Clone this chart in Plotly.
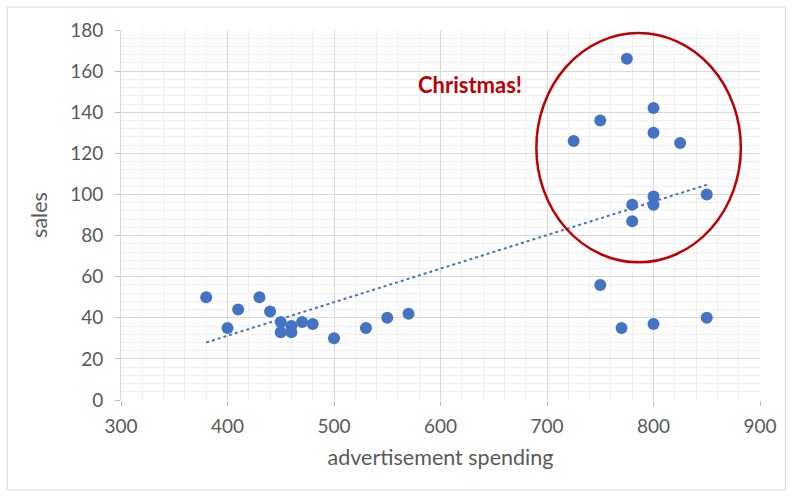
import numpy as np
import plotly.graph_objects as go

spending = [380, 400, 410, 430, 440, 450, 450, 460, 460, 470, 480, 500, 530, 550, 570,
            725, 750, 775, 800, 800, 825, 800, 800, 780, 780, 850, 750, 770, 800, 850]
sales = [50, 35, 44, 50, 43, 38, 33, 36, 33, 38, 37, 30, 35, 40, 42,
         126, 136, 166, 142, 130, 125, 99, 95, 95, 87, 100, 56, 35, 37, 40]

x_ticks = [300, 400, 500, 600, 700, 800, 900]
y_ticks = [0, 20, 40, 60, 80, 100, 120, 140, 160, 180]

xs = np.array(spending, dtype=float)
ys = np.array(sales, dtype=float)
slope, intercept = np.polyfit(xs, ys, 1)
tx = [xs.min(), xs.max()]
ty = [slope * v + intercept for v in tx]

FONT = "Lato, sans-serif"
GREY = "#595959"
BLUE = "#4472C4"
RED = "#C00000"

fig = go.Figure()
fig.add_trace(go.Scatter(x=tx, y=ty, mode="lines",
                         line=dict(color=BLUE, width=2, dash="dot"),
                         hoverinfo="skip", showlegend=False))
fig.add_trace(go.Scatter(x=spending, y=sales, mode="markers",
                         marker=dict(color=BLUE, size=12), showlegend=False))

fig.add_shape(type="circle", xref="x", yref="y", x0=690, x1=882, y0=67, y1=178.5,
              line=dict(color=RED, width=2.5))
fig.add_annotation(x=628, y=153.5, xref="x", yref="y", text="<b>Christmas!</b>",
                   showarrow=False, font=dict(color=RED, size=22, family=FONT))
fig.add_shape(type="rect", xref="paper", yref="paper", x0=-0.178, x1=1.04,
              y0=-0.243, y1=1.062, line=dict(color="#D9D9D9", width=1), layer="below")

fig.update_layout(
    width=793, height=496,
    margin=dict(l=121, r=33, t=30, b=96),
    plot_bgcolor="white", paper_bgcolor="white",
    font=dict(family=FONT, color=GREY),
    xaxis=dict(range=[300, 900], tickvals=x_ticks, ticks="outside", ticklen=5,
               tickcolor="#BFBFBF", showline=False, zeroline=False,
               gridcolor="#D9D9D9", gridwidth=1, ticklabelstandoff=4,
               minor=dict(dtick=20, showgrid=True, gridcolor="#F0F0F0", gridwidth=1),
               tickfont=dict(size=19, color=GREY, family=FONT),
               title=dict(text="advertisement spending", font=dict(size=21.5, color=GREY, family=FONT),
                          standoff=14)),
    yaxis=dict(range=[0, 180], tickvals=y_ticks, ticks="outside", ticklen=5,
               tickcolor="#BFBFBF", showline=True, linecolor="#D9D9D9", zeroline=False,
               gridcolor="#D9D9D9", gridwidth=1, ticklabelstandoff=8,
               minor=dict(dtick=4, showgrid=True, gridcolor="#F0F0F0", gridwidth=1),
               tickfont=dict(size=19, color=GREY, family=FONT),
               title=dict(text="sales", font=dict(size=21.5, color=GREY, family=FONT),
                          standoff=16)),
)

fig.write_html("out.html")
